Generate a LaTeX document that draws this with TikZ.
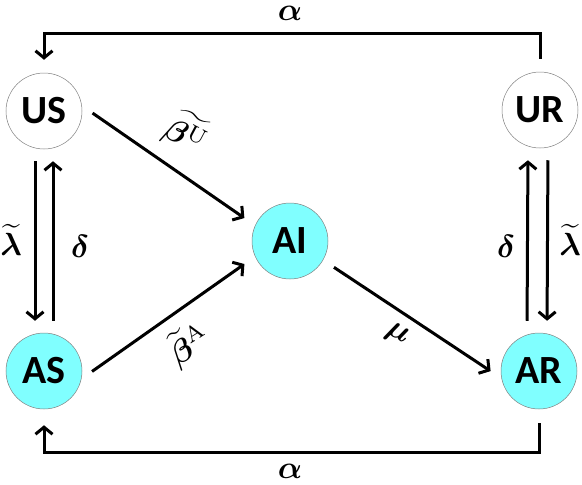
\documentclass[tikz,border=0pt]{standalone}
\usepackage{fontspec}
\setsansfont{Carlito}
\usepackage{bm}
\usepackage{graphicx}
\usetikzlibrary{arrows.meta,positioning}
\definecolor{activecyan}{RGB}{128,255,255}
\newcommand{\ratetext}[1]{\scalebox{3.2}{$#1$}}
\tikzset
{
    statenode/.style  = {circle, draw=gray, line width=0.5pt, fill=white, align=center, minimum size=76pt, inner sep=0pt, font=\sffamily\bfseries\fontsize{40}{40}\selectfont},
    activenode/.style = {statenode, fill=activecyan},
    ratelabel/.style  = {font=\fontsize{10}{12}\selectfont, inner sep=0pt}
}
\begin{document}
\begin{tikzpicture}[->,>={Straight Barb[length=7pt,width=17pt,line width=3pt]},line width=3pt,x=1pt,y=-1pt]
\useasboundingbox (0,0) rectangle (582,485);
\node [statenode] at (44,111) (us) {US};
\node [activenode] at (44,371) (as) {AS};
\node [activenode] at (290,241) (ai) {AI};
\node [statenode] at (540,110) (ur) {UR};
\node [activenode] at (539,371) (ar) {AR};
\draw [shorten <=13pt, shorten >=13pt] (ur.north) -- ++(0,-38) -| (us.north);
\draw [shorten <=14pt, shorten >=16pt] (ar.south) -- ++(0,43) -| (as.south);
\draw [shorten <=12pt, shorten >=12pt] ([xshift=-9pt]us.south) -- ([xshift=-9pt]as.north);
\draw [shorten <=12pt, shorten >=12pt] ([xshift=9pt]as.north) -- ([xshift=9pt]us.south);
\draw [shorten <=12pt, shorten >=12pt] ([xshift=-12pt]ar.north) -- ([xshift=-12pt]ur.south);
\draw [shorten <=12pt, shorten >=12pt] ([xshift=8pt]ur.south) -- ([xshift=8pt]ar.north);
\draw [shorten <=13pt, shorten >=13pt] (us.8) -- (ai.156);
\draw [shorten <=13pt, shorten >=13pt] (as.-12) -- (ai.204);
\draw [shorten <=13pt, shorten >=13pt] (ai.-30) -- (ar.191);
\node [ratelabel] at (290,13) (alphatop) {\ratetext{\bm{\alpha}}};
\node [ratelabel] at (290,471) (alphabot) {\ratetext{\bm{\alpha}}};
\node [ratelabel] at (11,240) (lambdal) {\ratetext{\widetilde{\bm{\lambda}}}};
\node [ratelabel] at (80,246) (deltal) {\ratetext{\bm{\delta}}};
\node [ratelabel] at (506,246) (deltar) {\ratetext{\bm{\delta}}};
\node [ratelabel] at (570,240) (lambdar) {\ratetext{\widetilde{\bm{\lambda}}}};
\node [ratelabel, rotate=-28] at (187,133) (betau) {\ratetext{\widetilde{\bm{\beta}^{\mathrm{U}}}}};
\node [ratelabel, rotate=32] at (189,344) (betaa) {\ratetext{\widetilde{\bm{\beta}}^{\mathrm{A}}}};
\node [ratelabel, rotate=-30] at (397,335) (mu) {\ratetext{\bm{\mu}}};
\end{tikzpicture}
\end{document}
